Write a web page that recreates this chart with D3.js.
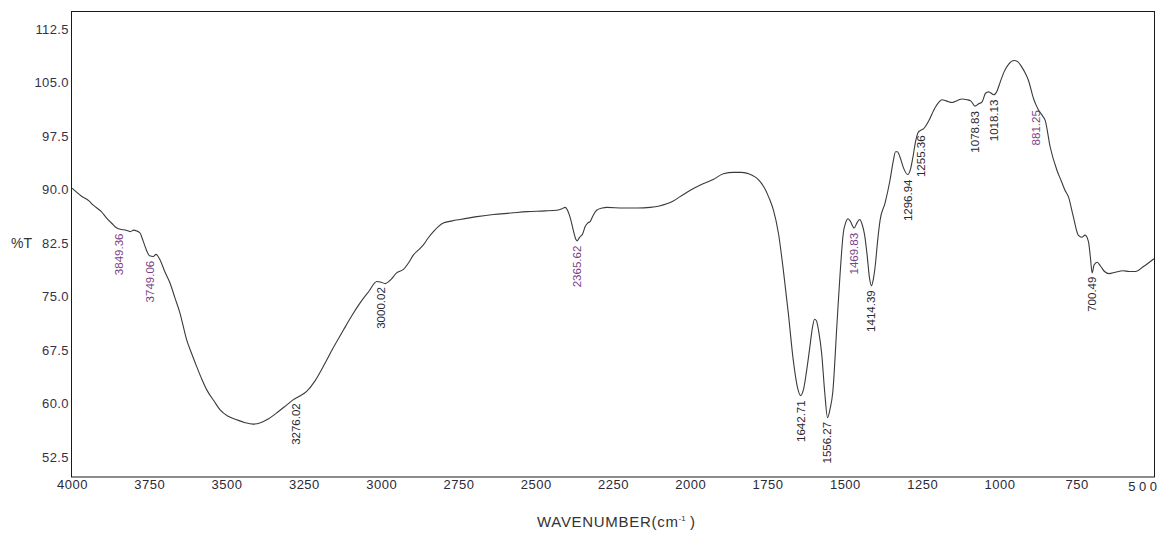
<!DOCTYPE html>
<html>
<head>
<meta charset="utf-8">
<script src="https://cdn.jsdelivr.net/npm/d3@7/dist/d3.min.js"></script>
<style>
  html, body { margin: 0; padding: 0; background: #fff; }
  svg { display: block; font-family: "Liberation Sans", Arial, sans-serif; }
</style>
</head>
<body>
<svg id="chart" width="1161" height="536"></svg>
<script>
// FTIR spectrum: wavenumber (cm^-1) against transmittance (%T)
const wavenumber = [
  4000, 3970, 3945, 3931, 3905, 3888, 3870, 3855, 3840, 3825, 3812, 3800, 3791, 3780, 3770, 3760,
  3749, 3737, 3728, 3715, 3700, 3683, 3667, 3651, 3640, 3629, 3613, 3597, 3580, 3564, 3540, 3521,
  3495, 3467, 3440, 3414, 3390, 3370, 3340, 3305, 3285, 3265, 3241, 3215, 3187, 3155, 3122, 3095,
  3068, 3040, 3014, 3000, 2987, 2970, 2950, 2928, 2910, 2896, 2880, 2864, 2848, 2831, 2815, 2799,
  2770, 2745, 2690, 2637, 2580, 2529, 2470, 2432, 2415, 2405, 2396, 2388, 2378, 2371, 2366, 2358,
  2348, 2340, 2332, 2324, 2315, 2303, 2285, 2270, 2217, 2170, 2130, 2100, 2076, 2055, 2033, 2000,
  1969, 1926, 1893, 1860, 1835, 1818, 1800, 1785, 1772, 1760, 1745, 1731, 1715, 1699, 1683, 1667,
  1654, 1643, 1633, 1624, 1613, 1605, 1598, 1592, 1585, 1575, 1565, 1556, 1548, 1539, 1526, 1516,
  1505, 1497, 1490, 1483, 1470, 1460, 1452, 1444, 1436, 1428, 1420, 1414, 1408, 1402, 1394, 1386,
  1370, 1354, 1343, 1336, 1330, 1322, 1310, 1297, 1288, 1280, 1271, 1263, 1255, 1246, 1229, 1208,
  1195, 1186, 1170, 1153, 1135, 1121, 1105, 1092, 1079, 1068, 1056, 1045, 1035, 1018, 1008, 998,
  985, 970, 953, 940, 928, 915, 906, 890, 881, 874, 860, 852, 836, 814, 800, 788,
  777, 761, 745, 733, 723, 712, 706, 700, 694, 684, 672, 660, 645, 625, 600, 580,
  560, 534, 500
];
const transmittance = [
  90.2, 89.1, 88.4, 87.8, 86.9, 86.0, 85.2, 84.6, 84.4, 84.3, 84.1, 84.3, 84.2, 83.9, 82.8, 81.6,
  80.7, 80.6, 80.9, 80.1, 78.5, 76.9, 74.8, 72.7, 70.8, 68.9, 67.0, 65.2, 63.4, 61.9, 60.3, 59.1,
  58.2, 57.7, 57.3, 57.1, 57.3, 57.7, 58.6, 59.8, 60.5, 61.0, 61.7, 63.1, 65.2, 67.8, 70.3, 72.3,
  74.1, 75.7, 77.1, 77.0, 76.8, 77.3, 78.3, 78.8, 79.8, 80.8, 81.5, 82.2, 83.2, 84.1, 84.8, 85.3,
  85.6, 85.8, 86.2, 86.5, 86.7, 86.9, 87.0, 87.1, 87.3, 87.5, 87.0, 86.0, 84.2, 83.1, 82.8, 83.3,
  83.8, 84.8, 85.3, 85.5, 86.3, 87.1, 87.4, 87.5, 87.4, 87.4, 87.5, 87.7, 88.0, 88.4, 89.0, 89.9,
  90.6, 91.4, 92.2, 92.4, 92.4, 92.3, 92.0, 91.6, 91.0, 90.2, 88.8, 87.1, 83.9, 78.7, 72.7, 66.1,
  62.4, 61.1, 62.1, 64.5, 68.0, 70.6, 71.8, 71.6, 70.2, 67.0, 61.5, 58.0, 59.2, 61.6, 70.8, 77.8,
  83.9, 85.4, 85.9, 85.6, 84.6, 85.4, 85.8, 85.1, 83.6, 80.8, 77.5, 76.5, 77.4, 79.2, 82.8, 85.7,
  88.1, 91.3, 94.1, 95.3, 95.3, 94.6, 93.0, 92.1, 92.8, 94.5, 96.8, 98.0, 98.3, 98.5, 99.6, 101.5,
  102.3, 102.6, 102.4, 102.2, 102.5, 102.7, 102.6, 102.4, 101.7, 102.0, 102.3, 103.5, 103.7, 103.3, 103.8, 105.0,
  106.5, 107.6, 108.1, 107.9, 107.2, 106.2, 105.3, 102.8, 101.8, 101.2, 100.3, 99.7, 96.0, 92.7, 91.2, 89.9,
  89.0, 86.2, 83.6, 83.3, 83.6, 82.7, 80.6, 78.3, 79.4, 79.8, 79.2, 78.5, 78.2, 78.4, 78.6, 78.5,
  78.5, 79.2, 80.3
];

// Peak positions written next to the trace
const peakLabels = [
  3849.36, 3749.06, 3276.02, 3000.02, 2365.62, 1642.71, 1556.27, 1469.83,
  1414.39, 1296.94, 1255.36, 1078.83, 1018.13, 881.25, 700.49
];

const xTickValues = [4000, 3750, 3500, 3250, 3000, 2750, 2500, 2250, 2000, 1750, 1500, 1250, 1000, 750, 500];
const yTickValues = [112.5, 105.0, 97.5, 90.0, 82.5, 75.0, 67.5, 60.0, 52.5];

// labels printed in the violet tone
const violetLabels = new Set([3849.36, 3749.06, 2365.62, 1469.83, 881.25]);

const svg = d3.select("#chart");
const plot = { left: 72, top: 12, right: 1154, bottom: 476.5 };

const x = d3.scaleLinear().domain([4000, 500]).range([plot.left, plot.right]);
const y = d3.scaleLinear().domain([49.75, 114.9]).range([plot.bottom, plot.top]);

const spectrum = wavenumber.map((w, i) => ({ w, t: transmittance[i] }));

// plot frame
svg.append("rect")
  .attr("x", plot.left - 0.5)
  .attr("y", plot.top - 0.5)
  .attr("width", plot.right - plot.left + 1)
  .attr("height", plot.bottom - plot.top + 1)
  .attr("fill", "none")
  .attr("stroke", "#1a1a1a")
  .attr("stroke-width", 1);

// y axis
const yAxis = svg.append("g")
  .attr("transform", `translate(${plot.left},0)`)
  .call(d3.axisLeft(y).tickValues(yTickValues).tickSize(0).tickPadding(3).tickFormat(d3.format(".1f")));
yAxis.select(".domain").remove();
yAxis.selectAll("text")
  .attr("font-family", "'Liberation Sans', Arial, sans-serif")
  .attr("font-size", 13)
  .attr("letter-spacing", "0.4px")
  .attr("fill", "#35304a");

// x axis
const xAxis = svg.append("g")
  .attr("transform", `translate(0,${plot.bottom})`)
  .call(d3.axisBottom(x).tickValues(xTickValues).tickSize(0).tickPadding(3).tickFormat(d3.format("d")));
xAxis.select(".domain").remove();
xAxis.selectAll("text")
  .attr("font-family", "'Liberation Sans', Arial, sans-serif")
  .attr("font-size", 13)
  .attr("letter-spacing", "0.5px")
  .attr("fill", "#2a2838");
// the last tick label sits against the right edge with wide spacing
xAxis.selectAll(".tick")
  .filter(d => d === 500)
  .select("text")
  .attr("text-anchor", "end")
  .attr("x", 6)
  .attr("y", 5)
  .attr("letter-spacing", "3.5px");

// axis titles
svg.append("text")
  .attr("x", 11)
  .attr("y", y(82.5) + 5)
  .attr("font-size", 14)
  .attr("fill", "#333")
  .text("%T");

const title = svg.append("text")
  .attr("x", 537)
  .attr("y", 527)
  .attr("font-size", 15)
  .attr("fill", "#333");
title.append("tspan").attr("letter-spacing", "0.7px").text("WAVENUMBER(cm");
title.append("tspan").attr("dy", -6).attr("font-size", 8).text("-1");
title.append("tspan").attr("dy", 6).text(" )");

// spectrum trace
const line = d3.line()
  .x(d => x(d.w))
  .y(d => y(d.t))
  .curve(d3.curveMonotoneX);

svg.append("path")
  .datum(spectrum)
  .attr("d", line)
  .attr("fill", "none")
  .attr("stroke", "#3a3a3a")
  .attr("stroke-width", 1.1);

// transmittance at any wavenumber
const bis = d3.bisector(d => -d.w).left;
function tAt(w) {
  const i = Math.min(Math.max(bis(spectrum, -w), 1), spectrum.length - 1);
  const a = spectrum[i - 1], b = spectrum[i];
  const f = (w - a.w) / (b.w - a.w);
  return a.t + f * (b.t - a.t);
}

// vertical peak labels hanging below the trace
svg.append("g")
  .selectAll("text")
  .data(peakLabels)
  .join("text")
  .attr("transform", d => `translate(${x(d)},${y(tAt(d)) + 5}) rotate(-90)`)
  .attr("text-anchor", "end")
  .attr("dy", "0.35em")
  .attr("font-size", 11.5)
  .attr("fill", d => violetLabels.has(d) ? "#7a3f86" : "#2a2630")
  .text(d => d3.format(".2f")(d));
</script>
</body>
</html>
